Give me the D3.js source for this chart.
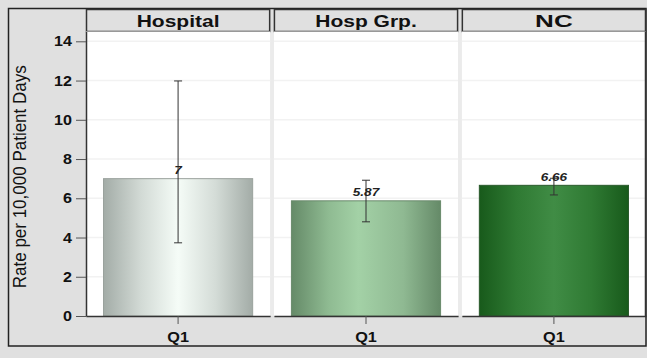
<!DOCTYPE html>
<html>
<head>
<meta charset="utf-8">
<script src="https://cdn.jsdelivr.net/npm/d3@7"></script>
<style>
html,body{margin:0;padding:0;background:#e0e0e0;}
svg{display:block;font-family:"Liberation Sans",Arial,sans-serif;}
</style>
</head>
<body>
<svg id="chart" width="647" height="358"></svg>
<script>
// ---- data ----
const groups = ["Hospital", "Hosp Grp.", "NC"];
const quarters = ["Q1"];
const values = [7, 5.87, 6.66];
const lowerCI = [3.73, 4.8, 6.17];
const upperCI = [11.98, 6.92, 7.02];
const valueLabels = ["7", "5.87", "6.66"];
const yTicks = [0, 2, 4, 6, 8, 10, 12, 14];
const yTitle = "Rate per 10,000 Patient Days";

// ---- styles ----
const gradStops = [
  [["0%","#a3aca7"],["25%","#d2dad5"],["50%","#f5fcf7"],["75%","#d4dcd7"],["100%","#a3aca7"]],
  [["0%","#658a68"],["25%","#8fbb92"],["45%","#a3d1a6"],["75%","#8fb992"],["100%","#658a68"]],
  [["0%","#185a1b"],["25%","#2f7a33"],["50%","#408c45"],["75%","#2f7a33"],["100%","#185a1b"]]
];
const barStroke = ["#9aa29d","#6a8a6c","#2a5a2c"];
const FONT = "Liberation Sans, Arial, sans-serif";

function stretch(sel, factor) {
  sel.each(function () {
    const len = this.getComputedTextLength();
    d3.select(this).attr("textLength", len * factor).attr("lengthAdjust", "spacingAndGlyphs");
  });
}

const svg = d3.select("#chart");
const W = 647, H = 358;
const plotL = 86, plotR = 646, plotT = 31.5, plotB = 316;

svg.append("rect").attr("width", W).attr("height", H).attr("fill", "#e0e0e0");
// outer frame
svg.append("rect").attr("x", 8.5).attr("y", 8.5).attr("width", 637.5).attr("height", 337.5)
  .attr("fill", "none").attr("stroke", "#222").attr("stroke-width", 1.5);

const defs = svg.append("defs");
groups.forEach((g, i) => {
  const lg = defs.append("linearGradient").attr("id", "grad" + i)
    .attr("x1", "0%").attr("x2", "100%").attr("y1", "0%").attr("y2", "0%");
  gradStops[i].forEach(s => lg.append("stop").attr("offset", s[0]).attr("stop-color", s[1]));
});

const y = d3.scaleLinear().domain([0, 14.5]).range([plotB, plotT]);
const panelX = d3.scaleBand().domain(groups).range([plotL, plotR]).paddingInner(0.02);
const bw = panelX.bandwidth();
const x = d3.scaleBand().domain(quarters).range([0, bw]).padding(0.105);

// gap strips between panels
groups.slice(1).forEach(g => {
  const gx = panelX(g);
  const gap = panelX.step() - bw;
  svg.append("rect").attr("x", gx - gap).attr("y", plotT).attr("width", gap).attr("height", plotB - plotT)
    .attr("fill", "#ebebeb");
});

groups.forEach((g, i) => {
  const px = panelX(g);
  const p = svg.append("g").attr("transform", `translate(${px},0)`);
  // header
  p.append("rect").attr("x", 0.5).attr("y", 9.5).attr("width", bw - 1).attr("height", plotT - 9.5)
    .attr("fill", "#e0e0e0").attr("stroke", "#333").attr("stroke-width", 1.5);
  const ht = p.append("text").attr("x", bw / 2).attr("y", 26.5).attr("text-anchor", "middle")
    .attr("font-size", 16.3).attr("font-weight", "bold").attr("fill", "#111").text(g);
  stretch(ht, g === "NC" ? 1.6 : 1.29);
  // plot area
  p.append("rect").attr("x", 0).attr("y", plotT).attr("width", bw).attr("height", plotB - plotT).attr("fill", "#fff");
  // gridlines
  p.selectAll("line.grid").data(yTicks.filter(t => t > 0)).join("line")
    .attr("x1", 0).attr("x2", bw).attr("y1", d => y(d)).attr("y2", d => y(d))
    .attr("stroke", "#f2f2f2").attr("stroke-width", 1.5);
  // bar
  const q = quarters[0];
  p.append("rect").attr("x", x(q)).attr("y", y(values[i])).attr("width", x.bandwidth())
    .attr("height", y(0) - y(values[i])).attr("fill", `url(#grad${i})`)
    .attr("stroke", barStroke[i]).attr("stroke-width", 1);
  // error bar
  const cx = x(q) + x.bandwidth() / 2;
  const eb = p.append("g").attr("stroke", "#333").attr("stroke-width", 1);
  eb.append("line").attr("x1", cx).attr("x2", cx).attr("y1", y(lowerCI[i])).attr("y2", y(upperCI[i]));
  [lowerCI[i], upperCI[i]].forEach(v => eb.append("line").attr("x1", cx - 4).attr("x2", cx + 4)
    .attr("y1", y(v)).attr("y2", y(v)));
  // value label
  const vl = p.append("text").attr("x", cx).attr("y", y(values[i]) - 4.8).attr("text-anchor", "middle")
    .attr("font-size", 11.5).attr("font-weight", "bold").attr("font-style", "italic").attr("fill", "#222")
    .text(valueLabels[i]);
  stretch(vl, 1.18);
  // x axis
  const xa = p.append("g").attr("transform", `translate(0,${plotB})`)
    .call(d3.axisBottom(x).tickSize(8).tickSizeOuter(0));
  xa.select(".domain").attr("stroke", "#333").attr("stroke-width", 1.5);
  xa.selectAll(".tick line").attr("stroke", "#555");
  const xt = xa.selectAll(".tick text").attr("font-size", 14.5).attr("font-weight", "bold")
    .attr("font-family", FONT).attr("fill", "#111").attr("y", 25.5).attr("dy", 0);
  stretch(xt, 1.12);
  // right border of last panel
  if (i === groups.length - 1) {
    p.append("line").attr("x1", bw - 0.5).attr("x2", bw - 0.5).attr("y1", plotT).attr("y2", plotB)
      .attr("stroke", "#333").attr("stroke-width", 1.5);
  }
});

// y axis
const ya = svg.append("g").attr("transform", `translate(${plotL},0)`)
  .call(d3.axisLeft(y).tickValues(yTicks).tickSize(10).tickSizeOuter(0).tickPadding(4));
ya.select(".domain").attr("stroke", "#333").attr("stroke-width", 1.5);
ya.selectAll(".tick line").attr("stroke", "#555");
const yt = ya.selectAll(".tick text").attr("font-size", 14).attr("font-weight", "bold")
  .attr("font-family", FONT).attr("fill", "#111");
stretch(yt, 1.15);

svg.append("text").attr("transform", `translate(25.5,${(plotT + plotB) / 2 + 3}) rotate(-90) scale(1,1.25)`)
  .attr("text-anchor", "middle").attr("font-size", 14.5).attr("fill", "#111")
  .attr("textLength", 223).attr("lengthAdjust", "spacingAndGlyphs").text(yTitle);
</script>
</body>
</html>
